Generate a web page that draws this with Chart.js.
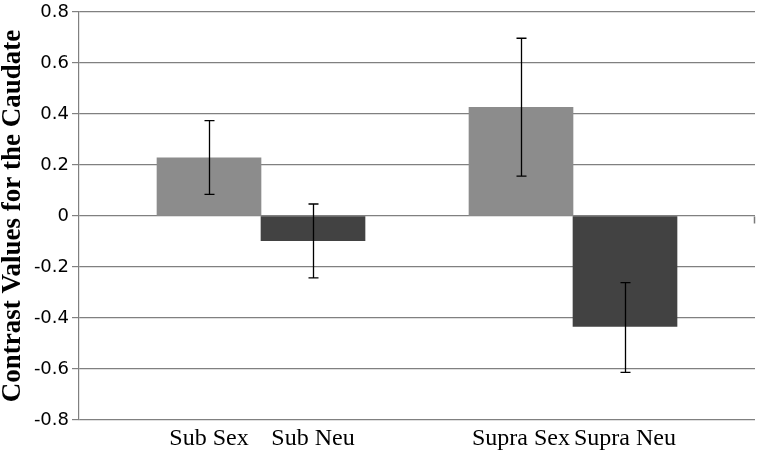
<!DOCTYPE html>
<html>
<head>
<meta charset="utf-8">
<script src="https://cdn.jsdelivr.net/npm/chart.js@4/dist/chart.umd.min.js"></script>
<style>
  html, body { margin: 0; padding: 0; background: #ffffff; }
  #wrap { width: 760px; height: 457px; }
</style>
</head>
<body>
<div id="wrap"><canvas id="c" width="760" height="457"></canvas></div>
<script>
// ---- data ----
const categories = ["Sub Sex", "Sub Neu", "Supra Sex", "Supra Neu"];
const groupOf    = ["Sub", "Sub", "Supra", "Supra"];
const means      = [0.228, -0.097, 0.426, -0.433];
const errLow     = [0.085, -0.243, 0.156, -0.613];
const errHigh    = [0.374, 0.047, 0.697, -0.261];
const barColors  = ["#8c8c8c", "#424242", "#8c8c8c", "#424242"];
const yTickValues = [-0.8, -0.6, -0.4, -0.2, 0, 0.2, 0.4, 0.6, 0.8];
const yTitle = "Contrast Values for the Caudate";

// slot index on the category axis: one empty slot separates the groups
const groupNames = [...new Set(groupOf)];
const slots = categories.map((c, i) => i + groupNames.indexOf(groupOf[i]) + 1);

const errorBars = {
  id: 'errorBars',
  afterDatasetsDraw(chart) {
    const ctx = chart.ctx;
    const ys = chart.scales.y;
    const meta = chart.getDatasetMeta(0);
    ctx.save();
    ctx.strokeStyle = '#000000';
    ctx.lineWidth = 1.3;
    meta.data.forEach((bar, i) => {
      const x = Math.round(bar.x) + 0.5;
      const y1 = ys.getPixelForValue(errHigh[i]);
      const y2 = ys.getPixelForValue(errLow[i]);
      ctx.beginPath();
      ctx.moveTo(x, y1); ctx.lineTo(x, y2);
      ctx.moveTo(x - 5, y1); ctx.lineTo(x + 5, y1);
      ctx.moveTo(x - 5, y2); ctx.lineTo(x + 5, y2);
      ctx.stroke();
    });
    // category-axis end tick at the zero line
    const y0 = Math.round(ys.getPixelForValue(0)) + 0.5;
    const xr = Math.round(chart.chartArea.right) - 0.5;
    ctx.strokeStyle = '#7a7a7a';
    ctx.lineWidth = 1.5;
    ctx.beginPath();
    ctx.moveTo(xr, y0); ctx.lineTo(xr, y0 + 7);
    ctx.stroke();
    ctx.restore();
  }
};

new Chart(document.getElementById('c'), {
  type: 'bar',
  data: {
    datasets: [{
      data: categories.map((c, i) => ({ x: slots[i], y: means[i] })),
      backgroundColor: barColors,
      borderWidth: 0,
      barPercentage: 1,
      categoryPercentage: 1
    }]
  },
  options: {
    responsive: false,
    animation: false,
    layout: { padding: { top: 12, right: 5, bottom: 0, left: 0 } },
    plugins: { legend: { display: false }, tooltip: { enabled: false } },
    scales: {
      x: {
        type: 'linear',
        min: -0.25,
        max: 6.25,
        offset: false,
        grid: { display: false, drawTicks: false },
        border: { display: false },
        afterBuildTicks: (scale) => { scale.ticks = slots.map(v => ({ value: v })); },
        afterFit: (scale) => { scale.height = 37; scale.paddingLeft = 0; scale.paddingRight = 0; },
        ticks: {
          autoSkip: false,
          maxRotation: 0,
          padding: 4,
          color: '#000000',
          font: { family: 'Liberation Serif', size: 24 },
          callback: (value) => { const i = slots.indexOf(value); return i >= 0 ? categories[i] : ''; }
        }
      },
      y: {
        min: -0.8,
        max: 0.8,
        afterBuildTicks: (scale) => { scale.ticks = yTickValues.map(v => ({ value: v })); },
        afterFit: (scale) => { scale.width = 79; scale.paddingTop = 0; scale.paddingBottom = 0; },
        grid: { color: '#808080', lineWidth: 1.2, tickLength: 7, drawTicks: true },
        border: { color: '#808080', width: 1.2 },
        ticks: {
          padding: 3,
          color: '#000000',
          font: { family: 'DejaVu Sans', size: 18 },
          callback: (v) => String(Math.round(v * 10) / 10)
        },
        title: {
          display: true,
          text: yTitle,
          color: '#000000',
          padding: { top: 0, bottom: 0 },
          font: { family: 'Liberation Serif', size: 27, weight: 'bold', lineHeight: 1 }
        }
      }
    }
  },
  plugins: [errorBars]
});
</script>
</body>
</html>
